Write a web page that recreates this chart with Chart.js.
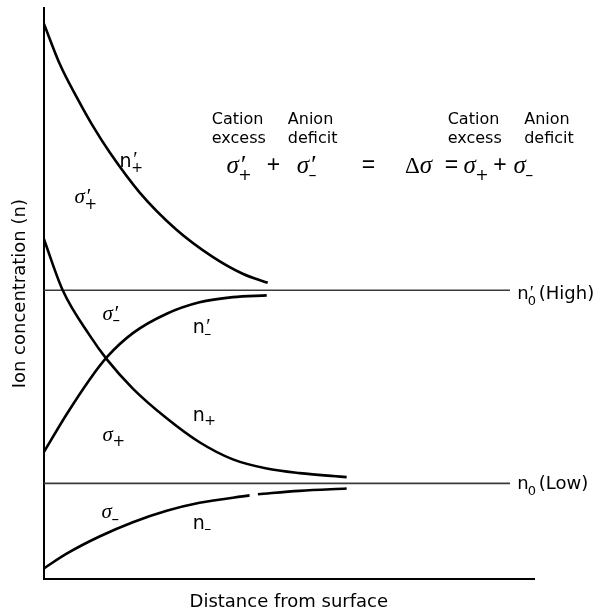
<!DOCTYPE html>
<html lang="en">
<head>
<meta charset="UTF-8">
<title>Ion concentration vs distance from surface</title>
<script src="https://cdn.jsdelivr.net/npm/chart.js"></script>
<style>
  html, body { margin: 0; padding: 0; background: #fff; }
  .chart-box { position: relative; width: 600px; height: 613px; }
</style>
</head>
<body>
<div class="chart-box"><canvas id="ionChart" width="600" height="613"></canvas></div>
<script>
// n'+ : cations, high bulk concentration
const xHighPlus = [0, 3.3, 6.8, 10.0, 13.5, 19.6, 27.1, 34.4, 40.6, 45.7];
const nHighPlus = [97.4, 90.2, 84.3, 79.4, 74.7, 67.7, 61.2, 56.5, 53.5, 51.9];
// n'- : anions, high bulk concentration
const xHighMinus = [0, 4.7, 9.4, 12.9, 18.2, 25.1, 31.8, 38.6, 45.5];
const nHighMinus = [22.2, 28.9, 35.0, 38.9, 43.1, 46.5, 48.5, 49.4, 49.7];
// n+ : cations, low bulk concentration
const xLowPlus = [0, 3.9, 9.4, 12.9, 18.2, 25.1, 31.8, 38.6, 45.5, 52.2, 61.8];
const nLowPlus = [59.7, 50.6, 42.7, 38.5, 33.4, 28.2, 24.0, 21.0, 19.4, 18.6, 17.9];
// n- : anions, low bulk concentration (small break in the drawn line)
const xLowMinus = [0, 4.7, 11.4, 18.2, 25.1, 31.8, 42.0, 42.9, 43.7, 52.2, 61.8];
const nLowMinus = [1.9, 4.5, 7.5, 10.0, 12.0, 13.4, 14.7, null, 14.9, 15.5, 15.9];

// bulk concentrations n'0 and n0
const bulkHigh = 50.6;
const bulkLow = 16.8;
const bulkEnd = 95.1;

const toPoints = (xs, ys) => xs.map((x, i) => ({ x: x, y: ys[i] }));

// curve labels: [base, prime, subscript, x, y] (x, y in data units, baseline-left)
const curveLabels = [
  ['n', true, '+', 15.5, 72.2],
  ['\u03c3', true, '+', 6.3, 65.8],
  ['\u03c3', true, '\u2013', 12.0, 45.4],
  ['n', true, '\u2013', 30.4, 43.1],
  ['n', false, '+', 30.4, 27.8],
  ['\u03c3', false, '+', 12.0, 24.3],
  ['\u03c3', false, '\u2013', 11.8, 10.7],
  ['n', false, '\u2013', 30.4, 8.9]
];

const headerLabels = [
  ['Cation', 34.3, 79.7], ['excess', 34.3, 76.4],
  ['Anion', 49.8, 79.7], ['deficit', 49.8, 76.4],
  ['Cation', 82.4, 79.7], ['excess', 82.4, 76.4],
  ['Anion', 98.0, 79.7], ['deficit', 98.0, 76.4]
];

// equation row: sigma'+ + sigma'- = Δσ = sigma+ + sigma-
const eqY = 71.1;
const eqParts = [
  ['sig', '+', true, 37.3], ['op', '+', false, 45.5], ['sig', '\u2013', true, 51.6],
  ['op', '=', false, 64.9], ['delta', '', false, 73.7], ['op', '=', false, 81.8],
  ['sig', '+', false, 85.6], ['op', '+', false, 91.7], ['sig', '\u2013', false, 95.8]
];

const SANS = '"DejaVu Sans", Arial, sans-serif';
const NARROW = '"Liberation Sans", Arial, sans-serif';
const SERIF = '"Liberation Serif", "Times New Roman", serif';

function drawSymbol(ctx, base, prime, sub, px, py, size, subScale) {
  const italic = base === '\u03c3';
  ctx.font = (italic ? 'italic ' : '') + size + 'px ' + (italic ? SERIF : SANS);
  ctx.fillText(base, px, py);
  const w = ctx.measureText(base).width;
  if (prime) {
    ctx.font = 'italic ' + Math.round(size * 1.05) + 'px ' + SERIF;
    ctx.fillText('\u2032', px + w + size * 0.02, py - size * 0.02);
  }
  if (sub) {
    ctx.font = Math.round(size * (subScale || 0.72)) + 'px ' + SANS;
    ctx.fillText(sub, px + w - size * 0.02, py + size * 0.26);
  }
}

const labelPlugin = {
  id: 'labelPlugin',
  afterDatasetsDraw(chart) {
    const ctx = chart.ctx;
    const xs = chart.scales.x, ys = chart.scales.y;
    ctx.save();
    ctx.fillStyle = '#000';
    ctx.textBaseline = 'alphabetic';
    ctx.textAlign = 'left';

    curveLabels.forEach(l => {
      drawSymbol(ctx, l[0], l[1], l[2], xs.getPixelForValue(l[3]), ys.getPixelForValue(l[4]), l[0] === 'n' ? 19 : 21);
    });

    ctx.font = '16px ' + SANS;
    headerLabels.forEach(l => {
      ctx.fillText(l[0], xs.getPixelForValue(l[1]), ys.getPixelForValue(l[2]));
    });

    const eqPy = ys.getPixelForValue(eqY);
    eqParts.forEach(p => {
      const px = xs.getPixelForValue(p[3]);
      if (p[0] === 'sig') {
        drawSymbol(ctx, '\u03c3', p[2], p[1], px, eqPy, 25, 0.62);
      } else if (p[0] === 'op') {
        ctx.font = '23px ' + NARROW;
        ctx.fillText(p[1], px, eqPy - 1);
      } else {
        ctx.font = '23px ' + SERIF;
        ctx.fillText('\u0394', px, eqPy);
        const w = ctx.measureText('\u0394').width;
        ctx.font = 'italic 25px ' + SERIF;
        ctx.fillText('\u03c3', px + w, eqPy);
      }
    });

    // bulk level labels at the right end of the reference lines
    const rx = xs.getPixelForValue(96.6);
    [[true, '(High)', 49.0], [false, '(Low)', 15.9]].forEach(b => {
      const py = ys.getPixelForValue(b[2]);
      ctx.font = '18px ' + SANS;
      ctx.fillText('n', rx, py);
      const w = ctx.measureText('n').width;
      if (b[0]) {
        ctx.font = 'italic 18px ' + SERIF;
        ctx.fillText('\u2032', rx + w, py);
      }
      ctx.font = '13px ' + SANS;
      ctx.fillText('0', rx + w - 1, py + 6);
      ctx.font = '18px ' + SANS;
      ctx.fillText(b[1], rx + w + 10, py);
    });
    ctx.restore();
  }
};

const curveStyle = {
  borderColor: '#000',
  borderWidth: 2.6,
  pointRadius: 0,
  fill: false,
  cubicInterpolationMode: 'monotone',
  spanGaps: false
};
const levelStyle = {
  borderColor: '#3a3a3a',
  borderWidth: 1.6,
  pointRadius: 0,
  fill: false
};

new Chart(document.getElementById('ionChart'), {
  type: 'line',
  data: {
    datasets: [
      Object.assign({ label: "n'+", data: toPoints(xHighPlus, nHighPlus) }, curveStyle),
      Object.assign({ label: "n'-", data: toPoints(xHighMinus, nHighMinus) }, curveStyle),
      Object.assign({ label: 'n+', data: toPoints(xLowPlus, nLowPlus) }, curveStyle),
      Object.assign({ label: 'n-', data: toPoints(xLowMinus, nLowMinus) }, curveStyle),
      Object.assign({ label: "n'0", data: [{ x: 0, y: bulkHigh }, { x: bulkEnd, y: bulkHigh }] }, levelStyle),
      Object.assign({ label: 'n0', data: [{ x: 0, y: bulkLow }, { x: bulkEnd, y: bulkLow }] }, levelStyle)
    ]
  },
  options: {
    responsive: false,
    animation: false,
    devicePixelRatio: 1,
    layout: { padding: { left: 10, top: 8, right: 66, bottom: 0 } },
    scales: {
      x: {
        type: 'linear',
        min: 0,
        max: 100,
        ticks: { display: false },
        grid: { display: false, drawTicks: false },
        border: { display: true, color: '#000', width: 2 },
        title: {
          display: true,
          text: 'Distance from surface',
          color: '#000',
          font: { family: SANS, size: 18 },
          padding: { top: 12, bottom: 0 }
        }
      },
      y: {
        min: 0,
        max: 100,
        ticks: { display: false },
        grid: { display: false, drawTicks: false },
        border: { display: true, color: '#000', width: 2 },
        title: {
          display: true,
          text: 'Ion concentration (n)',
          color: '#000',
          font: { family: SANS, size: 18 },
          padding: { top: 0, bottom: 12 }
        }
      }
    },
    plugins: {
      legend: { display: false },
      tooltip: { enabled: false }
    }
  },
  plugins: [labelPlugin]
});
</script>
</body>
</html>
